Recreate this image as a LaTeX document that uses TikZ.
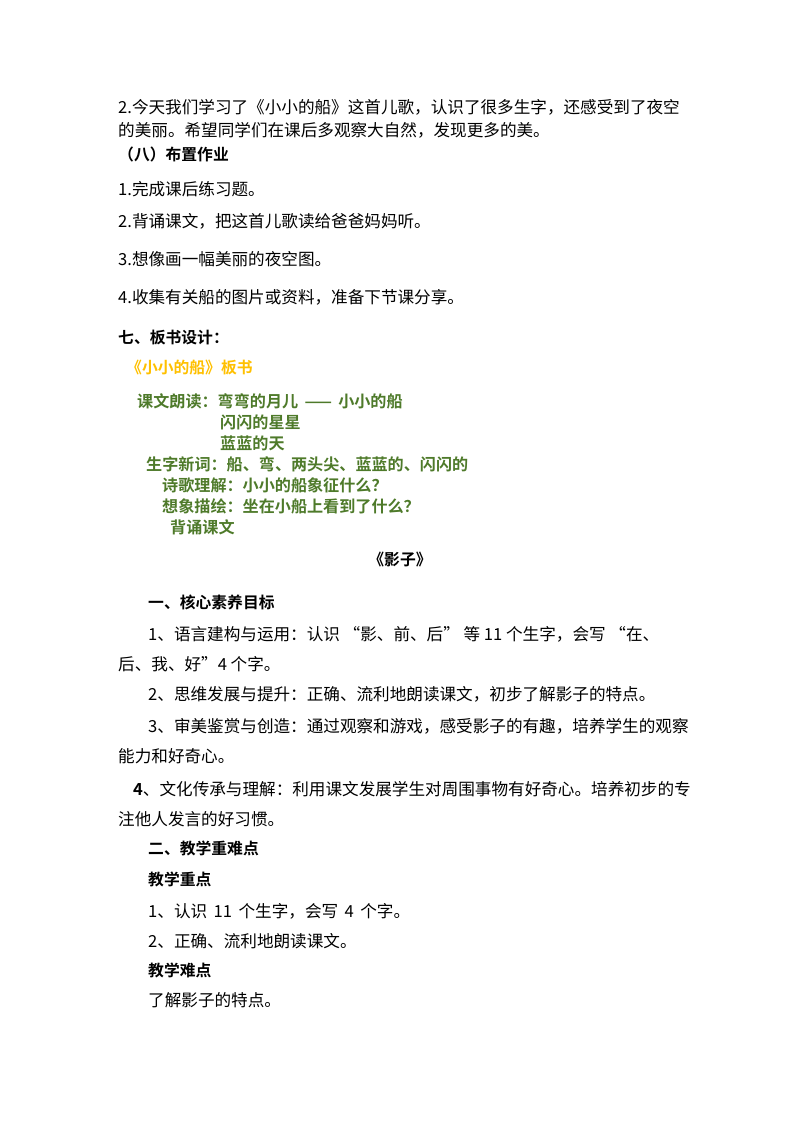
\documentclass[tikz,border=0pt]{standalone}
\usepackage{fontspec}
\setmainfont{Liberation Serif}
\newfontfamily\cjk{Noto Sans CJK SC}
\newfontfamily\cjkb{Noto Sans CJK SC Bold}
\usetikzlibrary{positioning}
\definecolor{boardorange}{HTML}{FFC000}
\definecolor{boardgreen}{HTML}{4E7A2A}
\begin{document}
\begin{tikzpicture}
  [x=1pt,y=1pt,
   every node/.style={anchor=base west,inner sep=0pt},
   body/.style={font=\fontsize{16.6}{19}\cjk},
   head/.style={font=\fontsize{15.8}{18}\cjkb},
   board/.style={font=\fontsize{16.1}{18}\cjkb,text=boardgreen}]

  \useasboundingbox (0,0) rectangle (800,-1132);

  % homework part
  \node[body] (l1) at (118,-113) {2.今天我们学习了《小小的船》这首儿歌，认识了很多生字，还感受到了夜空};
  \node[body] (l2) at (118,-136) {的美丽。希望同学们在课后多观察大自然，发现更多的美。};
  \node[head] (hw) at (118,-160) {（八）布置作业};
  \node[body] (hw1) at (118,-195) {1.完成课后练习题。};
  \node[body] (hw2) at (118,-227) {2.背诵课文，把这首儿歌读给爸爸妈妈听。};
  \node[body] (hw3) at (118,-265) {3.想像画一幅美丽的夜空图。};
  \node[body] (hw4) at (118,-303) {4.收集有关船的图片或资料，准备下节课分享。};

  % board design
  \node[head] (bd) at (118,-343) {七、板书设计：};
  \node[head,text=boardorange] (bt) at (126,-373) {《小小的船》板书};
  \node[board] (b1) at (137,-407) {课文朗读：弯弯的月儿 \,——\, 小小的船};
  \node[board] (b2) at (220,-428) {闪闪的星星};
  \node[board] (b3) at (220,-449) {蓝蓝的天};
  \node[board] (b4) at (146,-470) {生字新词：船、弯、两头尖、蓝蓝的、闪闪的};
  \node[board] (b5) at (162,-491) {诗歌理解：小小的船象征什么？};
  \node[board] (b6) at (162,-512) {想象描绘：坐在小船上看到了什么？};
  \node[board] (b7) at (170,-533) {背诵课文};

  % next lesson
  \node[head,anchor=base] (yz) at (400,-565) {《影子》};
  \node[head] (g1) at (148,-608) {一、核心素养目标};
  \node[body] (g11) at (148,-640) {1、语言建构与运用：认识 “影、前、后” 等 11 个生字，会写 “在、};
  \node[body] (g12) at (118,-670) {后、我、好”4 个字。};
  \node[body] (g2) at (148,-700) {2、思维发展与提升：正确、流利地朗读课文，初步了解影子的特点。};
  \node[body] (g31) at (148,-732) {3、审美鉴赏与创造：通过观察和游戏，感受影子的有趣，培养学生的观察};
  \node[body] (g32) at (118,-762) {能力和好奇心。};
  \node[body] (g41) at (133,-795) {{\cjkb 4}、文化传承与理解：利用课文发展学生对周围事物有好奇心。培养初步的专};
  \node[body] (g42) at (118,-825) {注他人发言的好习惯。};
  \node[head] (g5) at (148,-854) {二、教学重难点};
  \node[head] (k1) at (148,-885) {教学重点};
  \node[body] (k11) at (148,-917) {1、认识 \,11\, 个生字，会写 \,4\, 个字。};
  \node[body] (k12) at (148,-947) {2、正确、流利地朗读课文。};
  \node[head] (k2) at (148,-976) {教学难点};
  \node[body] (k21) at (148,-1006) {了解影子的特点。};
\end{tikzpicture}
\end{document}
